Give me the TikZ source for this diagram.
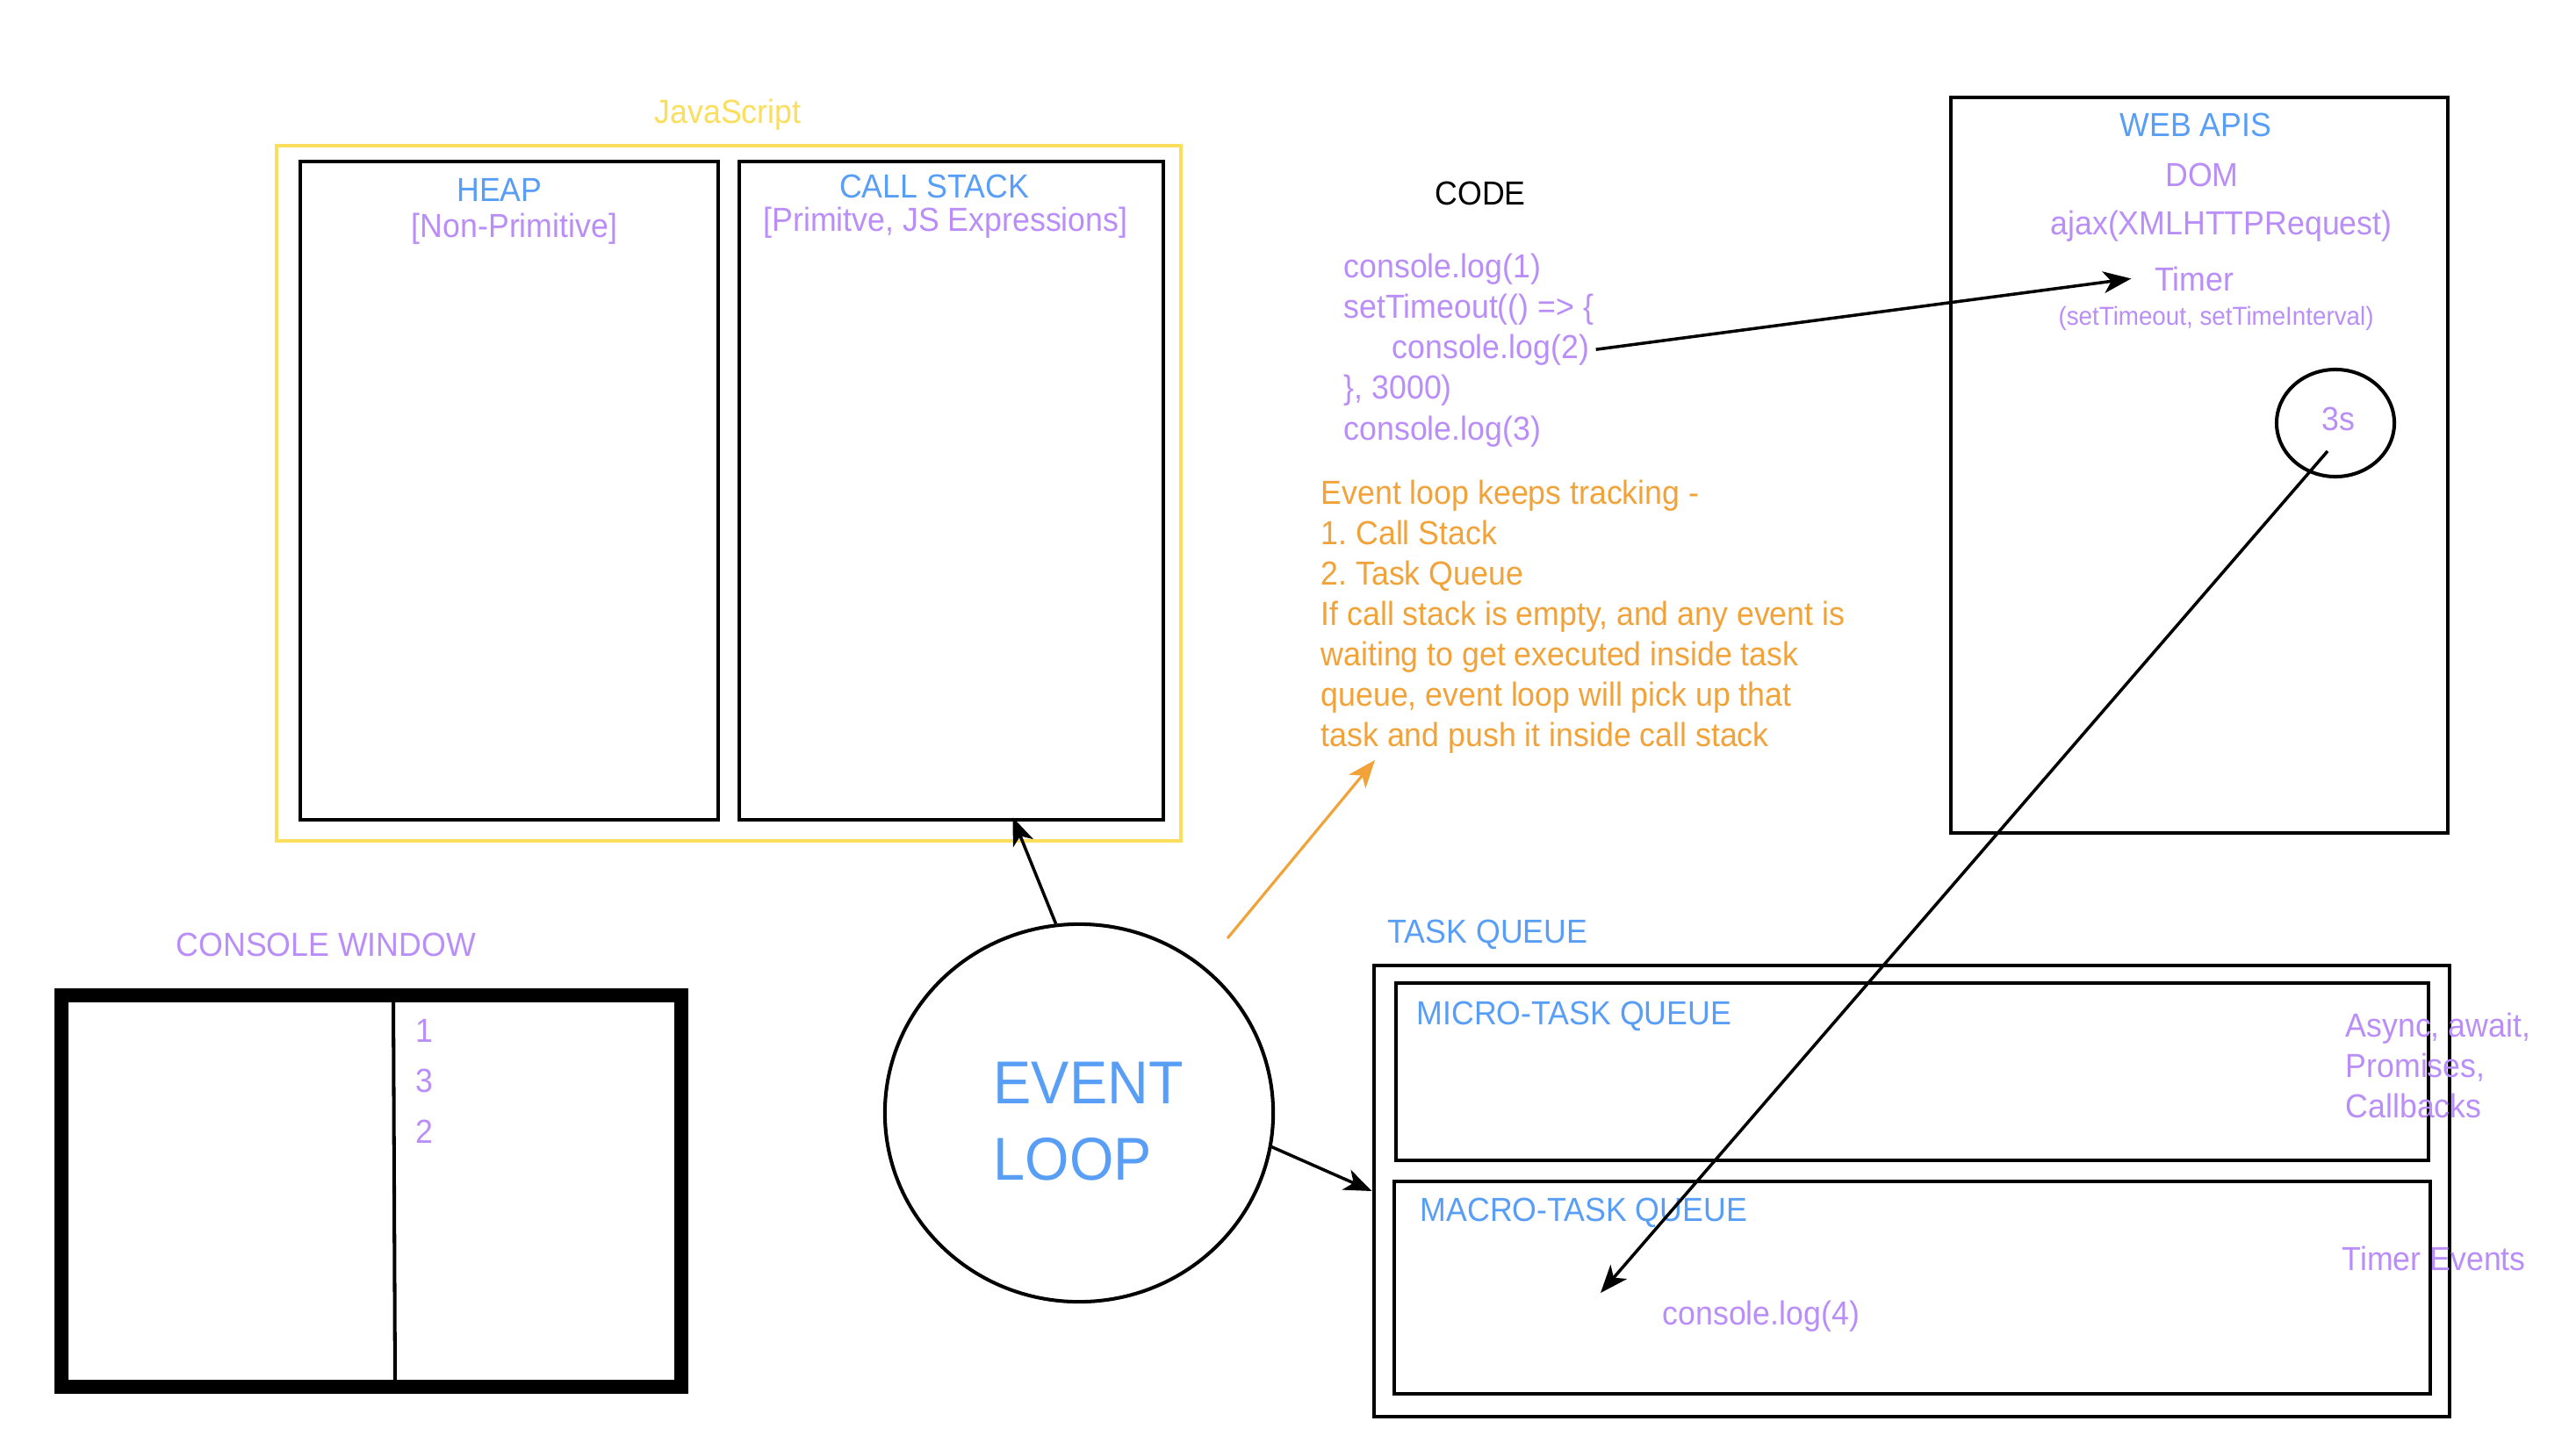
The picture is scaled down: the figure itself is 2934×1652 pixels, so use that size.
\documentclass[tikz,border=0pt]{standalone}
\usepackage{fontspec}
\setmainfont{Liberation Sans}[FakeStretch=0.94]
\usetikzlibrary{arrows.meta,calc,shapes.geometric}
\definecolor{jsblue}{RGB}{88,158,246}
\definecolor{jspurple}{RGB}{186,142,248}
\definecolor{jsorange}{RGB}{241,163,58}
\definecolor{jsyellow}{RGB}{250,222,92}
\newcommand{\fsN}{\fontsize{10.8}{13}\selectfont}
\newcommand{\fsS}{\fontsize{8.4}{10}\selectfont}
\newcommand{\fsL}{\fontsize{19.6}{24}\selectfont}
\frenchspacing
\begin{document}
\begin{tikzpicture}[x=0.01cm,y=-0.01cm,
  txt/.style={inner sep=0pt, font=\fsN},
  btxt/.style={txt, text=jsblue},
  ptxt/.style={txt, text=jspurple},
  otxt/.style={txt, text=jsorange, anchor=base west},
  box/.style={draw=black, line width=1.15pt, inner sep=0pt},
  conn/.style={draw=black, line width=1pt, -{Stealth[length=9pt,width=7pt,inset=2.5pt]}},
]
\useasboundingbox[fill=white] (0,0) rectangle (2934,1652);

% JavaScript engine
\node[box, draw=jsyellow, line width=1.1pt, minimum width=10.30cm, minimum height=7.92cm] (js) at (830,562) {};
\node[txt, anchor=base, text=jsyellow] (jslbl) at (829,141) {JavaScript};
\node[box, minimum width=4.76cm, minimum height=7.50cm] (heap) at (580,559) {};
\node[btxt, anchor=base] (heaplbl) at (569,230) {HEAP};
\node[ptxt, anchor=base] (heapsub) at (586,271) {[Non-Primitive]};
\node[box, minimum width=4.83cm, minimum height=7.50cm] (cs) at (1083.5,559) {};
\node[btxt, anchor=base] (cslbl) at (1064,226) {CALL STACK};
\node[ptxt, anchor=base] (cssub) at (1077,264) {[Primitve, JS Expressions]};

% Code
\node[txt, anchor=base] (codelbl) at (1686,234) {CODE};
\node[ptxt, anchor=base west] (c1) at (1530,317) {console.log(1)};
\node[ptxt, anchor=base west] (cst) at (1530,363) {setTimeout(() => \{};
\node[ptxt, anchor=base west] (c2) at (1585,409) {console.log(2)};
\node[ptxt, anchor=base west] (cend) at (1530,455) {\}, 3000)};
\node[ptxt, anchor=base west] (c3) at (1530,501) {console.log(3)};

% Explanation
\node[otxt] (o1) at (1504,574) {Event loop keeps tracking -};
\node[otxt] (o2) at (1504,620) {1. Call Stack};
\node[otxt] (o3) at (1504,666) {2. Task Queue};
\node[otxt] (o4) at (1504,712) {If call stack is empty, and any event is};
\node[otxt] (o5) at (1504,758) {waiting to get executed inside task};
\node[otxt] (o6) at (1504,804) {queue, event loop will pick up that};
\node[otxt] (o7) at (1504,850) {task and push it inside call stack};

% Web APIs
\node[box, minimum width=5.66cm, minimum height=8.38cm] (web) at (2505,530) {};
\node[btxt, anchor=base] (weblbl) at (2501,156) {WEB APIS};
\node[ptxt, anchor=base] (dom) at (2508,213) {DOM};
\node[ptxt, anchor=base] (ajax) at (2530,268) {ajax(XMLHTTPRequest)};
\node[ptxt, anchor=base] (timer) at (2499,332) {Timer};
\node[ptxt, anchor=base, font=\fsS] (timersub) at (2524,370) {(setTimeout, setTimeInterval)};
\node[box, ellipse, minimum width=1.34cm, minimum height=1.22cm] (t3) at (2660,482) {};
\node[ptxt, anchor=base] (t3lbl) at (2663,490) {3s};

% Task queue
\node[btxt, anchor=base west] (tqlbl) at (1580,1074) {TASK QUEUE};
\node[box, minimum width=12.25cm, minimum height=5.14cm] (tq) at (2177.5,1357) {};
\node[box, minimum width=11.76cm, minimum height=2.02cm] (micro) at (2178,1221) {};
\node[box, minimum width=11.80cm, minimum height=2.42cm] (macro) at (2178,1467) {};
\node[btxt, anchor=base west] (microlbl) at (1613,1167) {MICRO-TASK QUEUE};
\node[btxt, anchor=base west] (macrolbl) at (1617,1391) {MACRO-TASK QUEUE};
\node[ptxt, anchor=base west] (mi1) at (2671,1181) {Async, await,};
\node[ptxt, anchor=base west] (mi2) at (2671,1227) {Promises,};
\node[ptxt, anchor=base west] (mi3) at (2671,1273) {Callbacks};
\node[ptxt, anchor=base west] (ma1) at (2667,1447) {Timer Events};
\node[ptxt, anchor=base west] (c4) at (1893,1509) {console.log(4)};

% Console window
\node[ptxt, anchor=base west] (cwlbl) at (200,1089) {CONSOLE WINDOW};
\node[draw=black, line width=4.55pt, inner sep=0pt, minimum width=7.05cm, minimum height=4.46cm] (cw) at (423,1357) {};
\draw[line width=1.15pt] ($(cw.north)+(25,8)$) -- ($(cw.south)+(27,-8)$);
\node[ptxt, anchor=base west] (out1) at (473,1187) {1};
\node[ptxt, anchor=base west] (out3) at (473,1244) {3};
\node[ptxt, anchor=base west] (out2) at (473,1302) {2};

% Event loop
\node[box, ellipse, minimum width=4.42cm, minimum height=4.30cm] (el) at (1229,1268) {};
\node[btxt, anchor=base west, font=\fsL] (ev1) at (1131,1257) {EVENT};
\node[btxt, anchor=base west, font=\fsL] (ev2) at (1131,1344) {LOOP};

% Connectors
\coordinate (os) at (1398,1069);
\coordinate (oe) at (1566,866);
\coordinate (me) at (1823,1473);
\draw[conn] (el.97.6) -- ($(cs.south)+(70,-5)$);
\draw[conn] (el.-10.6) -- (tq.west);
\draw[conn, draw=jsorange, line width=0.9pt] (os) -- (oe);
\draw[conn] ($(c2.east)+(7,-1)$) -- ($(timer.west)+(-26,-1)$);
\draw[conn] ($(t3.center)+(-9,32)$) -- (me);
\end{tikzpicture}
\end{document}
